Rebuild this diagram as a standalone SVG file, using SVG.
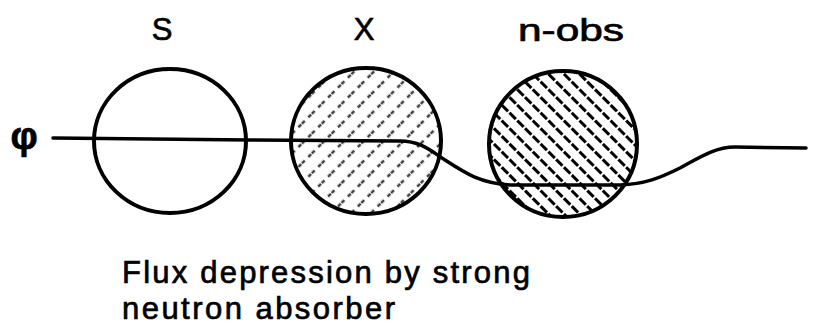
<svg xmlns="http://www.w3.org/2000/svg" width="815" height="335" viewBox="0 0 815 335">
<style>
.ring{fill:none;stroke:#000;stroke-width:4}
.lbl{font-family:"Liberation Sans",Arial,sans-serif;fill:#000;stroke:#000;stroke-width:0.7}
.flux{fill:none;stroke:#000;stroke-width:3.5;stroke-linecap:round;stroke-linejoin:round}
</style>
<defs>
<pattern id="hatchX" patternUnits="userSpaceOnUse" width="14" height="14" patternTransform="rotate(-45)">
<line x1="0" y1="7" x2="14" y2="7" stroke="#000" stroke-width="2.5" stroke-dasharray="4 5"/>
</pattern>
<pattern id="hatchN" patternUnits="userSpaceOnUse" width="11" height="11" patternTransform="rotate(45)">
<line x1="0" y1="5.5" x2="11" y2="5.5" stroke="#000" stroke-width="3" stroke-dasharray="9 2"/>
</pattern>
</defs>
<rect width="815" height="335" fill="#fff"/>
<g id="phi"><text class="lbl" x="24" y="149" font-size="38" font-weight="bold" text-anchor="middle">φ</text></g>
<g id="S">
<ellipse class="ring" cx="170" cy="141" rx="76" ry="72"/>
<text class="lbl" x="162" y="40" font-size="31" text-anchor="middle">S</text>
</g>
<g id="X">
<ellipse cx="366" cy="141" rx="75" ry="73" fill="url(#hatchX)" opacity="0.75"/>
<ellipse class="ring" cx="366" cy="141" rx="75" ry="73"/>
<text class="lbl" x="364" y="40" font-size="31" text-anchor="middle">X</text>
</g>
<g id="n-abs">
<ellipse cx="563" cy="144" rx="74" ry="73" fill="url(#hatchN)"/>
<ellipse class="ring" cx="563" cy="144" rx="74" ry="73"/>
<text class="lbl" x="518" y="41" font-size="31" textLength="106" lengthAdjust="spacingAndGlyphs">n-obs</text>
</g>
<g id="connectors">
<path class="flux" d="M53,138 L250,140 L400,141 C420,141 430,150 445,160 C465,173 480,183 510,185 L620,185 C645,184 660,178 680,168 C700,157 715,147 735,147 L806,148"/>
</g>
<g id="caption">
<text class="lbl" x="122" y="283" font-size="31" textLength="408" lengthAdjust="spacing">Flux depression by strong</text>
<text class="lbl" x="122" y="319" font-size="31" textLength="273" lengthAdjust="spacing">neutron absorber</text>
</g>
</svg>
